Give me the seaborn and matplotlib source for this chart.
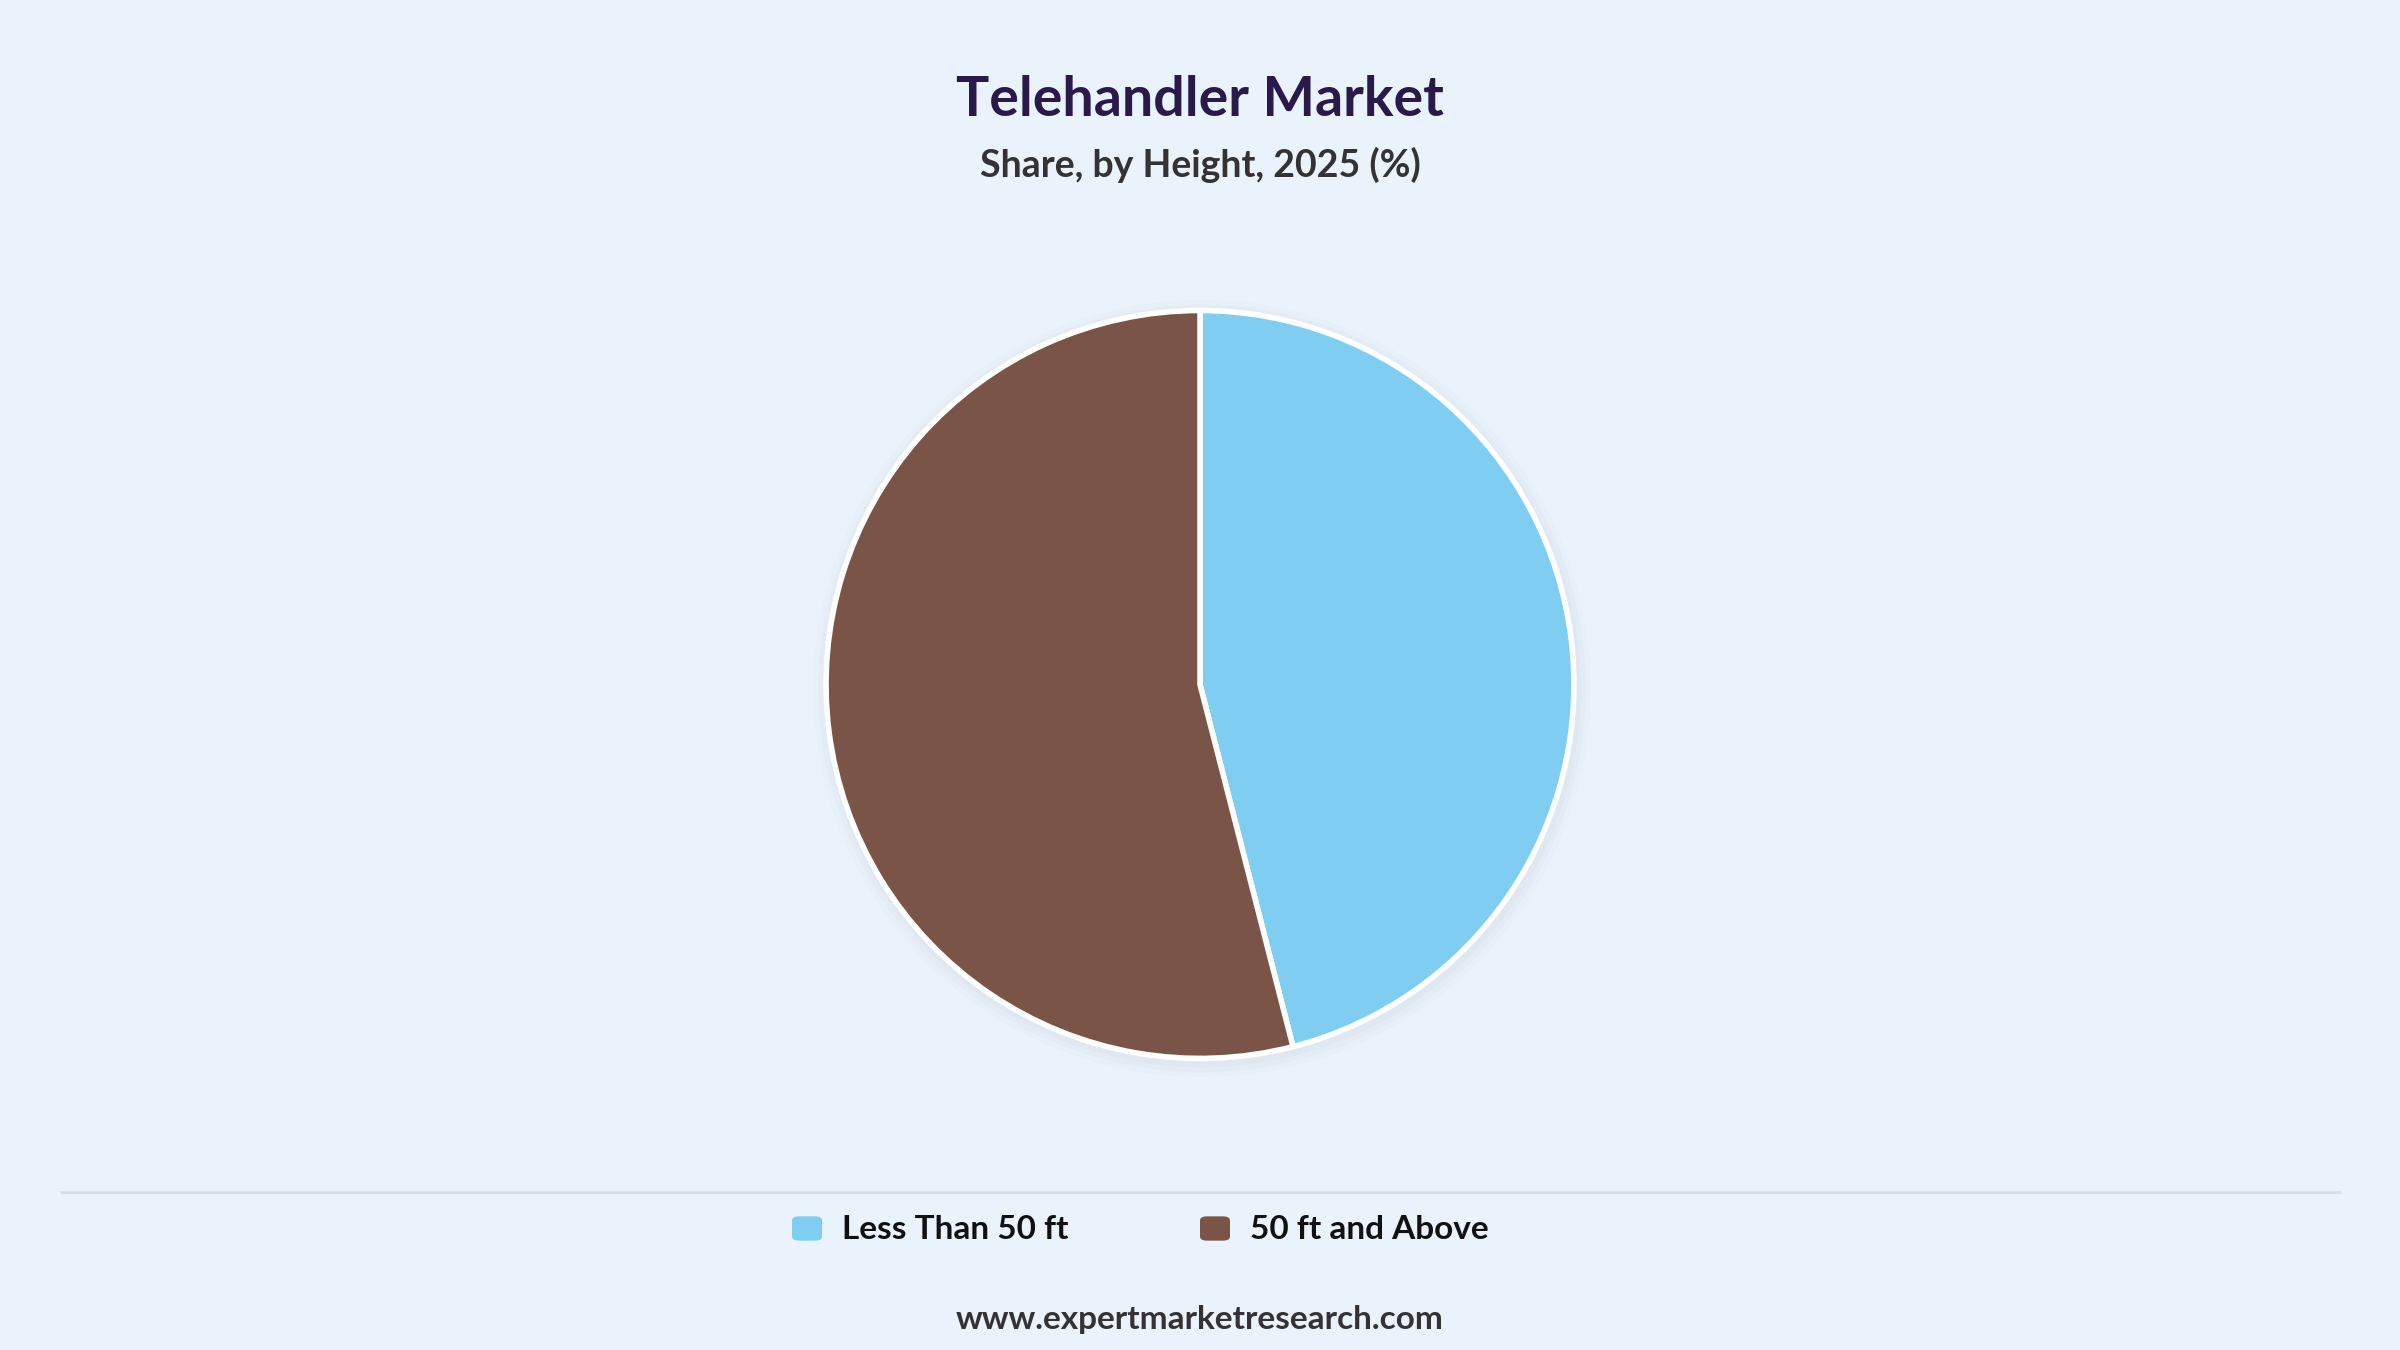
import matplotlib
matplotlib.use("Agg")
import matplotlib.pyplot as plt
import seaborn as sns
from matplotlib.patches import FancyBboxPatch, Circle

sns.set_theme(style="white")
plt.rcParams["font.family"] = ["Lato", "DejaVu Sans"]

categories = ["Less Than 50 ft", "50 ft and Above"]
shares = [46, 54]
colors = ["#7FCEF1", "#7A5547"]
bg = "#EAF2FB"

fig = plt.figure(figsize=(24, 13.5), dpi=100, facecolor=bg)

fig.text(0.5, 0.926, "Telehandler Market", ha="center", va="center",
         fontsize=40, fontweight="bold", color="#2A1A4A")
fig.text(0.5, 0.878, "Share, by Height, 2025 (%)", ha="center", va="center",
         fontsize=27, fontweight="bold", color="#333333")

h = 0.6
w = h * 1350 / 2400
ax = fig.add_axes([0.5 - w / 2, 0.493 - h / 2, w, h])
ax.set_facecolor(bg)
r = 0.277 / (h / 2)
# soft shadow
for i, a in enumerate([0.05, 0.04, 0.03]):
    ax.add_patch(Circle((0.005, -0.01), r + 0.012 * (i + 1), color="#9aa3b0", alpha=a, lw=0))
ax.pie(shares, colors=colors, startangle=90, counterclock=False, radius=r,
       wedgeprops=dict(edgecolor="white", linewidth=4))
ax.set_xlim(-1, 1)
ax.set_ylim(-1, 1)
ax.set_aspect("equal")
ax.axis("off")

fig.add_artist(plt.Line2D([0.0255, 0.975], [0.117, 0.117], color="#d8dde3", lw=2))

legend_x = [0.330, 0.500]
for x, c, lab in zip(legend_x, colors, categories):
    fig.add_artist(FancyBboxPatch((x, 0.081), 0.0125, 0.018, boxstyle="round,pad=0,rounding_size=0.003",
                                  transform=fig.transFigure, facecolor=c, edgecolor="none"))
    fig.text(x + 0.021, 0.0896, lab, ha="left", va="center", fontsize=24,
             fontweight="bold", color="#111111")

fig.text(0.5, 0.0227, "www.expertmarketresearch.com", ha="center", va="center",
         fontsize=24, fontweight="bold", color="#333333")

fig.savefig("out.png", dpi=100, facecolor=bg)
